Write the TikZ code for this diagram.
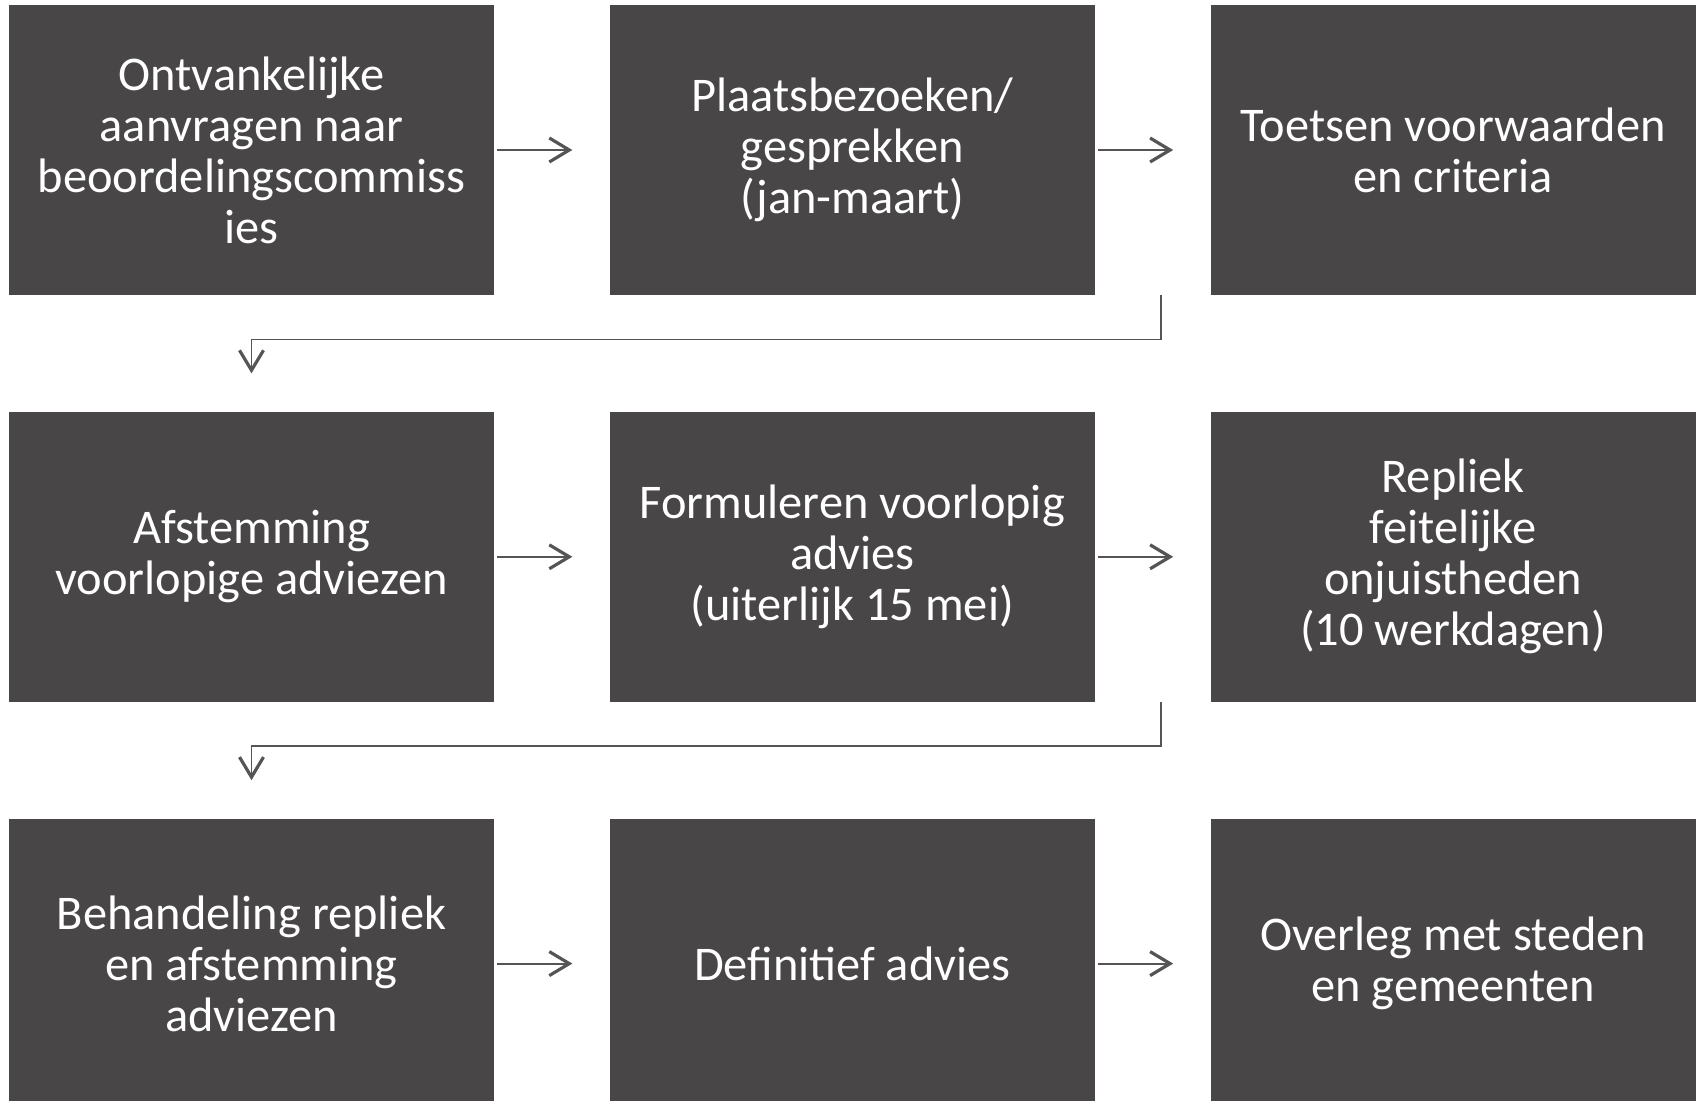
\documentclass[tikz,border=0pt]{standalone}
\usepackage{fontspec}
\setmainfont{Carlito}
\usetikzlibrary{positioning,arrows.meta}
\definecolor{vakgrijs}{RGB}{72,70,71}
\definecolor{lijngrijs}{RGB}{85,85,85}

\begin{document}
\begin{tikzpicture}[>={Straight Barb[length=10pt,width=12pt,line width=1.6pt]},
    node distance=58pt and 57.5pt,
    stap/.style={rectangle,fill=vakgrijs,text=white,minimum width=242.5pt,
      minimum height=145pt,inner sep=0pt,align=center,
      font=\fontsize{24.2pt}{25.5pt}\selectfont},
    pijl/.style={->,draw=lijngrijs,line width=1pt,shorten <=1.5pt,shorten >=18.5pt},
    knik/.style={->,draw=lijngrijs,line width=0.8pt,shorten >=19pt}]

  \useasboundingbox (0,0) rectangle (849.5pt,-550.5pt);

  % rij 1
  \node[stap] (aanvr) at (125.75pt,-75pt)
    {Ontvankelijke\\aanvragen naar\\beoordelingscommiss\\ies};
  \node[stap] (bezoek) [right=of aanvr] {Plaatsbezoeken/\\gesprekken\\(jan-maart)};
  \node[stap] (toets) [right=of bezoek] {Toetsen voorwaarden\\en criteria};

  % rij 2
  \node[stap] (afst) [below=of aanvr] {Afstemming\\voorlopige adviezen};
  \node[stap] (formul) [right=of afst] {Formuleren voorlopig\\advies\\(uiterlijk 15 mei)};
  \node[stap] (repliek) [right=of formul] {Repliek\\feitelijke\\onjuistheden\\(10 werkdagen)};

  % rij 3
  \node[stap] (behand) [below=of afst] {Behandeling repliek\\en afstemming\\adviezen};
  \node[stap] (defin) [right=of behand] {Definitief advies};
  \node[stap] (overleg) [right=of defin] {Overleg met steden\\en gemeenten};

  \draw[pijl] (aanvr) -- (bezoek);
  \draw[pijl] (bezoek) -- (toets);
  \draw[pijl] (afst) -- (formul);
  \draw[pijl] (formul) -- (repliek);
  \draw[pijl] (behand) -- (defin);
  \draw[pijl] (defin) -- (overleg);

  \coordinate (knik1) at ([xshift=-24.5pt]toets.south west);
  \coordinate (knik2) at ([xshift=-24.5pt]repliek.south west);
  \draw[knik] (knik1) -- ++(0,-22pt) -| (afst.north);
  \draw[knik] (knik2) -- ++(0,-22pt) -| (behand.north);
\end{tikzpicture}
\end{document}
